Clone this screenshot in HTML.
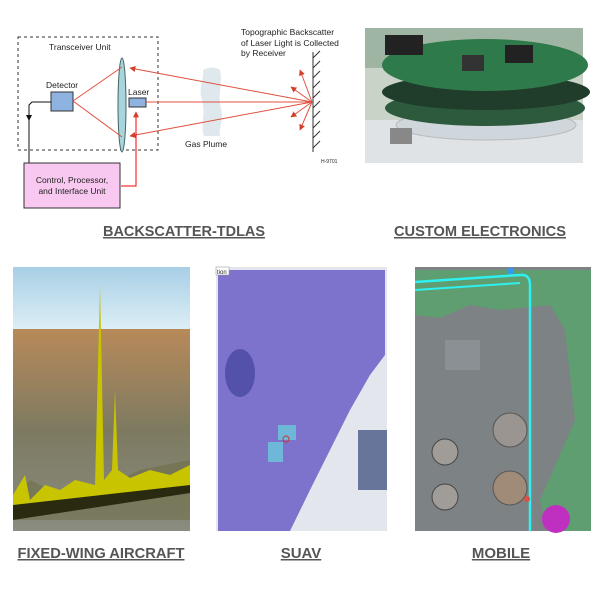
<!DOCTYPE html>
<html><head><meta charset="utf-8"><style>
html,body{margin:0;padding:0;background:#fff;width:600px;height:600px;overflow:hidden}
svg{display:block}
.lbl{font-family:"Liberation Sans",sans-serif;font-weight:bold;fill:#555;text-decoration:underline}
.t{font-family:"Liberation Sans",sans-serif;fill:#222}
</style></head><body>
<svg width="600" height="600" viewBox="0 0 600 600">
<defs>
<marker id="ar" viewBox="0 0 10 10" refX="9" refY="5" markerWidth="6" markerHeight="6" orient="auto"><path d="M0,0L10,5L0,10z" fill="#d0402a"/></marker>
<linearGradient id="sky" x1="0" y1="0" x2="0" y2="1"><stop offset="0" stop-color="#a8cfe6"/><stop offset="1" stop-color="#dceef5"/></linearGradient>
<linearGradient id="gr" x1="0" y1="0" x2="0" y2="1"><stop offset="0" stop-color="#b88a5a"/><stop offset="0.5" stop-color="#7d7a60"/><stop offset="1" stop-color="#8a8c80"/></linearGradient>
</defs>
<rect x="18" y="37" width="140" height="113" fill="none" stroke="#333" stroke-dasharray="3,3"/>
<text x="49" y="50" class="t" font-size="8.5">Transceiver Unit</text>
<text x="46" y="88" class="t" font-size="8.5">Detector</text>
<rect x="51" y="92" width="22" height="19" fill="#8fb3e0" stroke="#333"/>
<text x="128" y="95" class="t" font-size="8.5">Laser</text>
<rect x="129" y="98" width="17" height="9" fill="#8fb3e0" stroke="#333"/>
<ellipse cx="122" cy="105" rx="4" ry="47" fill="#a8d4dc" stroke="#466"/>
<path d="M203 70 Q212 65 220 70 C223 85 217 95 221 108 C224 120 218 130 220 136 L204 136 C200 125 206 115 202 100 C198 88 204 80 203 70z" fill="#dfe8ec"/>
<text x="185" y="147" class="t" font-size="8.5">Gas Plume</text>
<g stroke="#e05040" stroke-width="1" fill="none">
<line x1="73" y1="101" x2="122" y2="67"/><line x1="73" y1="101" x2="122" y2="137"/>
<line x1="146" y1="102" x2="312" y2="102"/>
<line x1="312" y1="102" x2="130" y2="68" marker-end="url(#ar)"/>
<line x1="312" y1="102" x2="130" y2="136" marker-end="url(#ar)"/>
<line x1="312" y1="102" x2="300" y2="70" marker-end="url(#ar)"/>
<line x1="312" y1="102" x2="291" y2="87" marker-end="url(#ar)"/>
<line x1="312" y1="102" x2="291" y2="117" marker-end="url(#ar)"/>
<line x1="312" y1="102" x2="300" y2="130" marker-end="url(#ar)"/>
<polyline points="121,186 136,186 136,112" marker-end="url(#ar)" stroke="#f00"/>
</g>
<line x1="313" y1="52" x2="313" y2="152" stroke="#333"/>
<g stroke="#333">
<line x1="313" y1="58" x2="320" y2="51"/><line x1="313" y1="68" x2="320" y2="61"/><line x1="313" y1="78" x2="320" y2="71"/><line x1="313" y1="88" x2="320" y2="81"/><line x1="313" y1="98" x2="320" y2="91"/><line x1="313" y1="108" x2="320" y2="101"/><line x1="313" y1="118" x2="320" y2="111"/><line x1="313" y1="128" x2="320" y2="121"/><line x1="313" y1="138" x2="320" y2="131"/><line x1="313" y1="148" x2="320" y2="141"/>
</g>
<text x="241" y="35" class="t" font-size="8.5">Topographic Backscatter</text>
<text x="241" y="46" class="t" font-size="8.5">of Laser Light is Collected</text>
<text x="241" y="56" class="t" font-size="8.5">by Receiver</text>
<text x="321" y="163" class="t" font-size="5">H-9701</text>
<polyline points="51,102 32,102 29,105 29,163" fill="none" stroke="#111"/>
<path d="M29,121 L26,115 L32,115z" fill="#111"/>
<rect x="24" y="163" width="96" height="45" fill="#f8c8f0" stroke="#333"/>
<text x="72" y="183" class="t" font-size="8.5" text-anchor="middle">Control, Processor,</text>
<text x="72" y="194" class="t" font-size="8.5" text-anchor="middle">and Interface Unit</text>
<text x="184" y="236" class="lbl" font-size="15" text-anchor="middle" textLength="162" lengthAdjust="spacingAndGlyphs">BACKSCATTER-TDLAS</text>
<rect x="365" y="28" width="218" height="135" fill="#c9d3c8"/>
<rect x="365" y="28" width="218" height="40" fill="#9fb5a3"/>
<rect x="365" y="120" width="218" height="43" fill="#dfe3e6"/>
<ellipse cx="486" cy="125" rx="90" ry="15" fill="#cfd6dc" stroke="#bbb"/>
<ellipse cx="485" cy="108" rx="100" ry="18" fill="#2d5a3c"/>
<ellipse cx="486" cy="92" rx="104" ry="18" fill="#1f3d2a"/>
<ellipse cx="485" cy="65" rx="103" ry="26" fill="#2f7a4a"/>
<rect x="385" y="35" width="22" height="20" fill="#222"/><rect x="405" y="35" width="18" height="20" fill="#222"/>
<rect x="462" y="55" width="22" height="16" fill="#333"/><rect x="505" y="45" width="28" height="18" fill="#222"/>
<rect x="390" y="128" width="22" height="16" fill="#888"/>
<text x="480" y="236" class="lbl" font-size="15" text-anchor="middle" textLength="172" lengthAdjust="spacingAndGlyphs">CUSTOM ELECTRONICS</text>
<rect x="13" y="267" width="177" height="62" fill="url(#sky)"/>
<rect x="13" y="329" width="177" height="202" fill="url(#gr)"/>
<path d="M13 320 L13 500 L30 480 L60 495 L100 490 L140 470 L190 460 L190 520 L13 520z" fill="#6a6a40" opacity="0.5"/>
<path d="M13 495 L25 475 L30 500 L45 485 L60 490 L75 480 L95 485 L100 285 L104 480 L112 470 L115 390 L118 470 L130 478 L150 470 L170 475 L190 465 L190 490 L120 500 L13 520z" fill="#c8c400"/>
<path d="M13 505 L190 485 L190 493 L13 520z" fill="#2a2a10"/>
<text x="101" y="558" class="lbl" font-size="15" text-anchor="middle" textLength="167" lengthAdjust="spacingAndGlyphs">FIXED-WING AIRCRAFT</text>
<rect x="216" y="267" width="171" height="264" fill="#e4e6ee"/>
<path d="M218 270 L385 270 L385 355 L370 375 L350 410 L330 450 L310 490 L290 531 L218 531z" fill="#7d72cc"/>
<ellipse cx="240" cy="373" rx="15" ry="24" fill="#4848a0" opacity="0.8"/>
<rect x="358" y="430" width="29" height="60" fill="#334477" opacity="0.7"/>
<rect x="278" y="425" width="18" height="15" fill="#6fb7d8"/>
<rect x="268" y="442" width="15" height="20" fill="#6fb7d8"/>
<circle cx="286" cy="439" r="3" fill="none" stroke="#c33"/>
<rect x="216" y="267" width="13" height="8" fill="#fff" stroke="#888" stroke-width="0.5"/>
<text x="217" y="274" font-size="6" class="t">tion</text>
<text x="301" y="558" class="lbl" font-size="15" text-anchor="middle">SUAV</text>
<rect x="415" y="267" width="176" height="264" fill="#7d8284"/>
<path d="M415 270 L591 270 L591 531 L548 531 L540 500 L575 420 L565 330 L550 305 L500 310 L470 305 L440 318 L415 315z" fill="#5e9e70"/>
<path d="M415 282 L520 275 Q530 274 530 285 L530 531" fill="none" stroke="#2ff0f0" stroke-width="2.5"/>
<path d="M415 290 L520 283" fill="none" stroke="#2ff0f0" stroke-width="2"/>
<circle cx="510" cy="430" r="17" fill="#9a9590" stroke="#555"/>
<circle cx="510" cy="488" r="17" fill="#a08a78" stroke="#555"/>
<circle cx="445" cy="452" r="13" fill="#a09c98" stroke="#444"/>
<circle cx="445" cy="497" r="13" fill="#a09c98" stroke="#444"/>
<rect x="445" y="340" width="35" height="30" fill="#8a9094"/>
<circle cx="556" cy="519" r="14" fill="#c030c0"/>
<circle cx="527" cy="499" r="3" fill="#e05040"/>
<rect x="507" y="268" width="7" height="6" fill="#3399ee"/>
<text x="501" y="558" class="lbl" font-size="15" text-anchor="middle">MOBILE</text>
</svg>
</body></html>
